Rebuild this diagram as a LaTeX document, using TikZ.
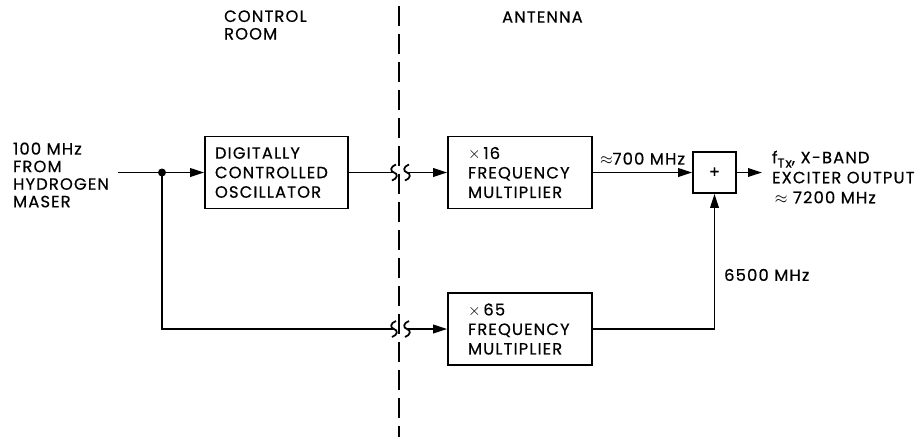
\documentclass[tikz,border=0pt]{standalone}
\usepackage{fontspec}
\setmainfont{Poppins}[LetterSpace=7, FakeBold=0.5]
\usetikzlibrary{positioning,arrows.meta,calc}
\newcommand\figfont{\fontsize{9.3}{11.1}\selectfont}
\newcommand\tightfont{\fontsize{9.3}{10}\selectfont}
\tikzset{
  blkbox/.style={draw, line width=0.9pt, align=left, font=\figfont,
    minimum height=1.44cm, inner ysep=0pt},
  ctlbox/.style={blkbox, text width=2.46cm, inner xsep=0.2cm},
  mulbox/.style={blkbox, text width=2.08cm, inner xsep=0.4cm},
  sumbox/.style={draw, line width=0.9pt, minimum width=0.86cm, minimum height=0.82cm,
    inner sep=0pt, font=\figfont},
  sigline/.style={line width=1pt},
  sigarrow/.style={sigline, -{Triangle[length=2.8mm, width=1.7mm]}},
  siglabel/.style={font=\figfont, align=left, inner sep=1pt},
  brkmark/.pic={\draw[sigline] (2,-8) .. controls (-4,-6) and (-4,-1) .. (0,0)
    .. controls (4,1) and (4,6) .. (-2,8);},
}

\begin{document}
\begin{tikzpicture}[x=0.02cm, y=-0.02cm]
  \useasboundingbox (0,0) rectangle (920,437);
  % rooms
  \coordinate (divtop) at (399,6);
  \coordinate (divbot) at (399,437);
  \draw[line width=1pt, dash pattern=on 0.4cm off 0.16cm] (divtop) -- (divbot);
  \node[siglabel, anchor=west, font=\tightfont] (ctlroom) at (222,25) {CONTROL\\ROOM};
  \node[siglabel, anchor=west] (antroom) at (500,17) {ANTENNA};
  % blocks
  \node[ctlbox] (dco) at (276.5,172.5) {DIGITALLY\\CONTROLLED\\OSCILLATOR};
  \node[mulbox] (mul16) at (520,172.5) {$\times$\,16\\FREQUENCY\\MULTIPLIER};
  \node[mulbox] (mul65) at (520,329) {$\times$\,65\\FREQUENCY\\MULTIPLIER};
  \node[sumbox] (sum) at (714.5,172.5) {+};
  % input
  \node[siglabel, anchor=west, font=\tightfont] (maser) at (11,175) {100 MHz\\FROM\\HYDROGEN\\MASER};
  \coordinate (src) at (118,172.5);
  \coordinate (split) at (162,172.5);
  \draw[sigarrow] (src) -- (dco.west);
  \fill (split) circle[radius=0.08cm];
  % cable breaks
  \coordinate (brkA) at (394,172.5);
  \coordinate (brkB) at (407,172.5);
  \coordinate (brkC) at (394,329);
  \coordinate (brkD) at (407,329);
  \draw[sigline] (dco.east) -- (brkA);
  \pic at (brkA) {brkmark};
  \pic at (brkB) {brkmark};
  \draw[sigarrow] (brkB) -- (mul16.west);
  \draw[sigline] (split) |- (brkC);
  \pic at (brkC) {brkmark};
  \pic at (brkD) {brkmark};
  \draw[sigarrow] (brkD) -- (mul65.west);
  % mixing
  \draw[sigarrow] (mul16.east) -- node[siglabel, above=3pt] {$\approx$700 MHz} (sum.west);
  \draw[sigarrow] (mul65.east) -| node[siglabel, pos=0.7, right=4pt] {6500 MHz} (sum.south);
  \coordinate (outp) at (762,172.5);
  \draw[sigarrow] (sum.east) -- (outp);
  \node[siglabel, anchor=west, font=\fontsize{9.3}{11.4}\selectfont] (exc) at (770,177)
    {f\raisebox{-0.5ex}{\fontsize{7.5}{7.5}\selectfont Tx}, X-BAND\\EXCITER OUTPUT\\\,$\approx$ 7200 MHz};
\end{tikzpicture}
\end{document}
